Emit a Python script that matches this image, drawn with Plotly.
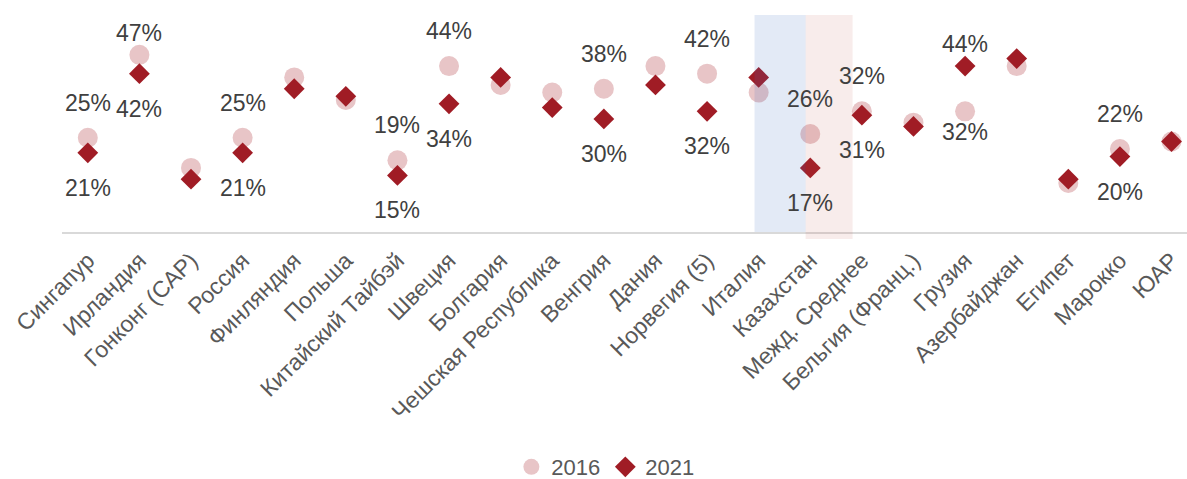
import plotly.graph_objects as go

# Categories (x axis) and shares for each survey year, in percent
countries = ["Сингапур", "Ирландия", "Гонконг (САР)", "Россия", "Финляндия", "Польша",
             "Китайский Тайбэй", "Швеция", "Болгария", "Чешская Республика", "Венгрия",
             "Дания", "Норвегия (5)", "Италия", "Казахстан", "Межд. Среднее",
             "Бельгия (Франц.)", "Грузия", "Азербайджан", "Египет", "Марокко", "ЮАР"]
share_2016 = [25, 47, 17, 25, 41, 35, 19, 44, 39, 37, 38, 44, 42, 37, 26, 32, 29, 32, 44, 13, 22, 24]
share_2021 = [21, 42, 14, 21, 38, 36, 15, 34, 41, 33, 30, 39, 32, 41, 17, 31, 28, 44, 46, 14, 20, 24]

# Countries whose values are printed next to the markers
labelled = [0, 1, 3, 6, 7, 10, 12, 14, 15, 17, 20]

# Vertical offsets (px) of the value labels: 2016 above, 2021 below by default
shift_2016 = {1: -22, 17: 21}
shift_2021 = {17: -22}
default_up, default_down = -35, 35

FONT = "Liberation Sans, Arial, sans-serif"
C_2016 = "#e8c5c7"
C_2021 = "#a01c25"

fig = go.Figure()
fig.add_trace(go.Scatter(
    x=countries, y=share_2016, mode="markers", name="2016",
    marker=dict(symbol="circle", size=20, color=C_2016),
))
fig.add_trace(go.Scatter(
    x=countries, y=share_2021, mode="markers", name="2021",
    marker=dict(symbol="diamond", size=16, color=C_2021),
))

annotations = []
for i in labelled:
    annotations.append(dict(
        x=countries[i], y=share_2016[i], text=f"{share_2016[i]}%",
        showarrow=False, yshift=-shift_2016.get(i, default_up),
        font=dict(family=FONT, size=23, color="#404040"),
    ))
    annotations.append(dict(
        x=countries[i], y=share_2021[i], text=f"{share_2021[i]}%",
        showarrow=False, yshift=-shift_2021.get(i, default_down),
        font=dict(family=FONT, size=23, color="#404040"),
    ))

# Highlight bands over Italy and Kazakhstan
shapes = [
    dict(type="rect", xref="x", yref="paper", x0=12.92, x1=13.91, y0=0, y1=1,
         fillcolor="rgba(68,114,196,0.15)", line=dict(width=0), layer="above"),
    dict(type="rect", xref="x", yref="paper", x0=13.91, x1=14.82, y0=-0.032, y1=1,
         fillcolor="rgba(192,80,77,0.11)", line=dict(width=0), layer="above"),
]

fig.update_layout(
    width=1187, height=479,
    margin=dict(l=62, r=0, t=15, b=247),
    paper_bgcolor="white", plot_bgcolor="white",
    font=dict(family=FONT, color="#595959"),
    showlegend=True,
    legend=dict(orientation="h", xref="container", yref="container",
                x=0.51, y=0.025, xanchor="center", yanchor="middle",
                font=dict(size=22, color="#595959"), itemwidth=30,
                tracegroupgap=0),
    annotations=annotations,
    shapes=shapes,
)
fig.update_xaxes(
    range=[-0.5, 21.3], tickangle=-45, showline=True, linecolor="#d9d9d9", linewidth=2,
    showgrid=False, ticks="outside", ticklen=4, tickcolor="rgba(0,0,0,0)",
    tickfont=dict(family=FONT, size=23, color="#595959"),
    automargin=False,
)
fig.update_yaxes(range=[0, 57.56], visible=False, showgrid=False, automargin=False)

fig.write_html("out.html")
